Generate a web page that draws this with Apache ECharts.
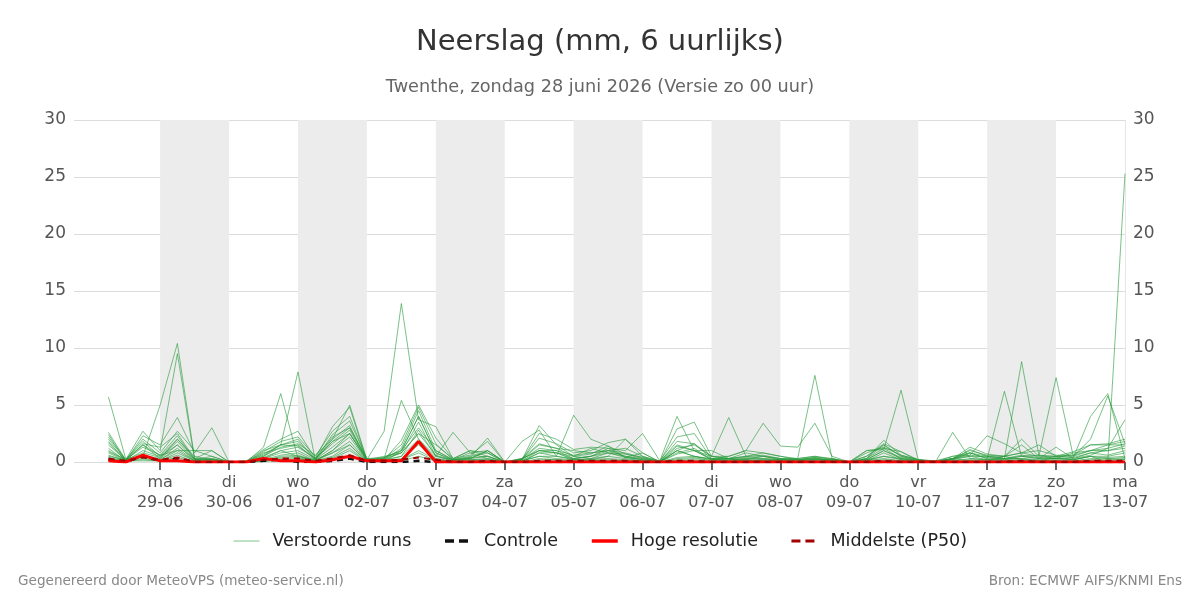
<!DOCTYPE html>
<html><head><meta charset="utf-8">
<script src="https://cdn.jsdelivr.net/npm/echarts@6/dist/echarts.min.js"></script>
<style>html,body{margin:0;padding:0;background:#fff}#c{width:1200px;height:600px}</style>
</head><body><div id="c"></div>
<script>
// Time steps: 6-hourly, 28-06 06:00 .. 13-07 00:00 ; hours relative to 29-06 00:00
const stepHours = [-18,-12,-6,0,6,12,18,24,30,36,42,48,54,60,66,72,78,84,90,96,102,108,114,120,126,132,138,144,150,156,162,168,174,180,186,192,198,204,210,216,222,228,234,240,246,252,258,264,270,276,282,288,294,300,306,312,318,324,330,336];
const tickHours = [0,24,48,72,96,120,144,168,192,216,240,264,288,312,336];
const tickDays = ['ma','di','wo','do','vr','za','zo','ma','di','wo','do','vr','za','zo','ma'];
const tickDates = ['29-06','30-06','01-07','02-07','03-07','04-07','05-07','06-07','07-07','08-07','09-07','10-07','11-07','12-07','13-07'];
const shadedDays = [[0,24],[48,72],[96,120],[144,168],[192,216],[240,264],[288,312]];

// Ensemble members ("Verstoorde runs"), mm per 6 h
const m1  = [5.7,0.3,0.5,5.0, 10.4,0.3,0.2,0, 0,0.3,1.0,0.5, 0.2,0.8,1.5,0.1, 0,1.0,4.0,0.8, 0.2,0.3,1.0,0, 0,0.8,0.5,0.3, 0.5,1.2,0.4,0.2, 0,1.0,0.5,0.3, 0.1,0.2,0,0.2, 0,0.3,0.1,0, 0.2,0.1,0.1,0, 0,0.3,0.1,0, 0.5,0.2,0.1,0.4, 0.2,0.5,0,25.3];
const m2  = [2.6,0.2,2.7,1.0, 9.5,0.2,0,0, 0,1.3,6.0,0.3, 0.1,1.0,2.5,0.2, 2.7,13.9,3.7,3.1, 0.3,1.0,0.5,0, 0.3,1.0,0.8,0.2, 0.3,0.5,2.0,0.5, 0,1.0,0.5,0.2, 0.3,0.2,0.5,0.2, 0.3,7.6,0.3,0, 0.2,0.5,0.3,0.1, 0,0.3,0.5,0.2, 0.3,8.8,0.6,0.3, 0.2,0.5,0.3,0.2];
const m3  = [2.4,0.1,2.3,1.5, 3.9,0.8,3.0,0, 0,0.5,1.5,7.9, 0.2,2.0,5.0,0.2, 0.3,5.4,2.0,0.5, 2.6,0.8,0.3,0, 0.2,3.2,1.5,0.5, 1.2,0.8,0.7,0.3, 0.1,4.0,1.0,0.3, 0.3,0.1,0.2,0.1, 0.2,0.4,0.1,0, 0.3,1.9,0.6,0.2, 0,0.2,0.8,0.3, 6.2,0.5,0.3,1.3, 0.3,0.6,1.2,3.7];
const m4  = [2.0,0.2,2.0,0.8, 2.7,1.0,0.5,0, 0.1,1.1,2.0,2.7, 0.3,3.1,4.8,0.1, 0.2,1.9,5.0,2.1, 0.3,0.6,1.8,0, 1.8,2.8,0.5,4.1, 2.0,1.4,0.4,0.8, 0,2.9,3.5,0.5, 3.9,0.5,0.3,0.2, 0.2,0.3,0.2,0, 0.5,1.6,0.9,0.1, 0,2.6,0.3,0.2, 0.5,2.0,0.5,7.4, 0.5,2.0,5.8,1.6];
const m5  = [1.7,0.1,1.6,1.3, 2.5,0.3,1.0,0, 0,0.9,1.8,2.2, 0.5,2.7,4.0,0.2, 0.3,1.5,4.8,1.6, 0.2,0.4,2.1,0, 0.2,2.5,2.0,1.1, 1.3,1.2,1.0,2.5, 0.1,2.2,2.5,0.3, 0.5,1.0,3.4,1.4, 1.3,3.4,0.5,0, 0.8,1.3,0.6,0.2, 0.1,0.5,0.6,2.3, 1.6,0.8,1.5,0.5, 0.4,4.0,6.0,0.3];
const m6  = [1.5,0.2,1.3,0.6, 2.3,0.2,0.3,0, 0,0.7,1.5,2.0, 0.2,2.4,3.6,0.3, 0.2,1.2,4.5,1.0, 0.2,0.8,1.0,0, 0.2,2.1,1.6,0.8, 1.0,1.7,2.0,0.8, 0,1.8,1.6,0.5, 0.3,0.8,0.5,0.3, 0.3,0.5,0.2,0, 1.0,1.1,6.3,0.2, 0,0.3,1.3,0.7, 0.5,1.5,0.3,0.5, 0.9,1.5,1.6,2.0];
const m7  = [1.2,0.1,1.0,0.5, 2.0,0.5,0.2,0, 0,0.5,1.3,1.6, 0.6,2.0,3.2,0.1, 0.4,1.0,4.0,0.8, 0.1,0.4,0.5,0, 0.3,1.6,1.2,0.5, 0.7,1.4,0.7,0.4, 0,1.4,1.0,1.0, 0.3,0.5,0.8,0.5, 0.2,0.3,0.1,0, 0.5,1.5,0.5,0.1, 0,0.2,1.1,0.5, 0.3,0.5,0.6,0.5, 0.6,1.0,1.2,1.6];
const m8  = [1.0,0.2,0.8,0.4, 1.8,0.2,0.5,0, 0,0.4,1.0,1.3, 0.3,1.6,2.8,0.2, 0.3,0.8,3.5,0.5, 0.2,0.3,1.0,0, 0.2,1.2,1.0,0.3, 0.5,1.0,0.5,0.3, 0,1.0,1.6,0.3, 0.3,0.4,0.5,0.3, 0.2,0.2,0.2,0, 0.3,1.2,0.3,0.1, 0,0.3,0.8,0.3, 0.2,0.5,0.3,0.3, 0.8,1.0,1.0,1.2];
const m9  = [0.8,0.1,0.6,0.3, 1.5,0.1,0.2,0, 0,0.3,0.8,1.0, 0.2,1.3,2.5,0.1, 0.2,0.5,2.8,0.5, 0.1,0.2,0.3,0, 0.1,0.8,0.8,0.5, 0.3,0.8,0.4,0.2, 0,0.7,1.0,0.2, 0.2,0.3,0.2,0.2, 0.1,0.2,0.1,0, 0.2,1.0,0.3,0.1, 0,0.2,0.5,0.5, 0.3,0.3,0.2,0.3, 0.3,0.8,0.6,1.0];
const m10 = [0.6,0.1,0.5,0.2, 1.2,0.1,0.1,0, 0,0.2,0.6,0.8, 0.1,1.0,2.2,0.1, 0.1,0.5,2.0,0.3, 0.1,0.2,0.2,0, 0.1,0.5,0.5,0.2, 0.2,0.5,0.3,0.1, 0,0.4,0.5,0.2, 0.1,0.2,0.1,0.1, 0.1,0.1,0.1,0, 0.1,0.8,0.2,0, 0,0.1,0.3,0.2, 0.2,0.3,0.1,0.2, 0.2,0.5,0.5,0.8];
const m11 = [0.5,0.2,0.4,0.2, 1.0,0.1,0.1,0, 0,0.1,0.5,0.6, 0.1,0.8,1.8,0.1, 0.1,0.3,1.5,0.3, 0,0.1,0.2,0, 0.1,0.5,0.3,0.2, 0.2,0.3,0.2,0.1, 0,0.3,0.4,0.1, 0.1,0.1,0.1,0.1, 0,0.1,0,0, 0.1,0.5,0.2,0, 0,0.1,0.2,0.1, 0.1,0.2,0.1,0.1, 0.1,0.3,0.4,0.5];
const m12 = [0.4,0.1,0.3,0.1, 0.8,0.1,0,0, 0,0.1,0.4,0.5, 0.1,0.5,1.5,0, 0.1,0.2,1.0,0.2, 0,0.1,0.1,0, 0,0.3,0.2,0.1, 0.1,0.2,0.1,0.1, 0,0.2,0.3,0.1, 0,0.1,0.1,0, 0,0,0,0, 0.1,0.3,0.1,0, 0,0,0.1,0.1, 0.1,0.1,0.1,0.1, 0.1,0.2,0.3,0.4];
const m13 = [0.3,0.1,0.2,0.1, 0.6,0,0,0, 0,0.1,0.3,0.4, 0.1,0.4,1.2,0, 0.1,0.2,0.8,0.1, 0,0,0.1,0, 0,0.2,0.2,0.1, 0.1,0.1,0.1,0, 0,0.1,0.2,0, 0,0,0.1,0, 0,0,0,0, 0,0.2,0.1,0, 0,0,0.1,0, 0.1,0.1,0,0.1, 0,0.1,0.2,0.3];
const m14 = [0.2,0.1,0.1,0.1, 0.4,0,0,0, 0,0,0.2,0.3, 0,0.3,1.0,0, 0,0.1,0.5,0.1, 0,0,0,0, 0,0.1,0.1,0, 0.1,0.1,0,0, 0,0.1,0.1,0, 0,0,0,0, 0,0,0,0, 0,0.1,0,0, 0,0,0,0, 0,0,0,0, 0,0.1,0.1,0.2];
const m15 = [0.9,0.2,1.5,0.6, 1.0,1.0,1.0,0, 0.1,0.6,1.5,1.4, 0.3,1.8,3.0,0.2, 0.5,0.8,2.5,1.5, 0.3,1.0,0.8,0, 0.3,1.0,1.0,0.6, 0.8,1.0,1.2,0.5, 0.1,1.5,1.0,0.5, 0.5,1.0,0.8,0.5, 0.3,0.5,0.3,0, 1.0,1.2,0.9,0.2, 0.1,0.3,1.0,0.6, 0.5,0.8,1.0,0.6, 0.6,1.5,1.5,1.5];
const m16 = [2.2,0.2,1.8,0.5, 1.5,0.2,0.3,0, 0,1.0,1.5,1.8, 0.3,2.2,3.0,0.3, 0.4,1.0,3.0,1.0, 0.2,0.5,0.8,0, 0.2,1.5,1.2,1.0, 0.8,1.0,0.8,0.4, 0,1.2,1.5,0.5, 0.3,0.5,0.6,0.3, 0.2,0.4,0.3,0, 0.3,1.5,0.5,0.2, 0,0.5,0.8,0.5, 0.5,0.8,0.5,0.5, 0.5,1.0,1.5,1.8];
const m17 = [1.8,0.1,1.5,0.3, 2.0,0.3,0.2,0, 0,0.8,1.2,1.5, 0.2,1.8,2.5,0.2, 0.2,0.8,2.5,0.6, 0.1,0.3,0.5,0, 0.1,1.0,0.8,0.3, 0.5,0.8,0.5,0.2, 0,0.8,1.2,0.2, 0.2,0.3,0.3,0.2, 0.1,0.2,0.2,0, 0.2,1.0,0.4,0.1, 0,0.3,0.6,0.4, 0.3,0.6,0.4,0.3, 0.4,0.8,1.0,1.4];
const members = [m1,m2,m3,m4,m5,m6,m7,m8,m9,m10,m11,m12,m13,m14,m15,m16,m17];

const controle = [0.2,0,0.5,0.1, 0.3,0,0,0, 0,0.1,0.2,0, 0,0.1,0.3,0, 0,0,0.1,0, 0,0,0,0, 0,0,0,0, 0,0,0,0, 0,0,0,0, 0,0,0,0, 0,0,0,0, 0,0,0,0, 0,0,0,0, 0,0,0,0, 0,0,0,0];
const hogeResolutie = [0.1,0,0.6,0.1, 0.1,0,0,0, 0,0.3,0.1,0.1, 0,0.2,0.5,0.1, 0.1,0.1,1.8,0, 0,0,0,0, 0,0,0,0, 0,0,0,0, 0,0,0,0, 0,0,0,0, 0,0,0,0, 0,0,0,0, 0,0,0,0, 0,0,0,0, 0,0,0,0];
const middelste = [0.3,0.1,0.4,0.2, 0.4,0,0,0, 0,0.2,0.3,0.3, 0.1,0.3,0.6,0.1, 0.1,0.2,0.4,0.2, 0,0,0.1,0, 0,0.1,0.1,0.1, 0.1,0.1,0.1,0, 0,0.1,0.1,0, 0,0,0,0, 0,0,0,0, 0,0.1,0,0, 0,0,0,0, 0,0.1,0,0, 0,0.1,0.1,0.1];

const pairs = arr => arr.map((v,i)=>[stepHours[i], v]);
const series = [];
members.forEach((m,k)=>{
  series.push({name:'Verstoorde runs', type:'line', data:pairs(m), showSymbol:false, symbol:'none',
    lineStyle:{width:1, color:'rgba(40,155,60,0.62)'}, itemStyle:{color:'#7cc487'}, silent:true, z:2,
    markArea: k===0 ? {silent:true, itemStyle:{color:'#ececec'}, data: shadedDays.map(d=>[{xAxis:d[0]},{xAxis:d[1]}])} : undefined});
});
series.push({name:'Middelste (P50)', type:'line', data:pairs(middelste), symbol:'none', lineStyle:{width:2, type:[6,5], color:'#a00000'}, itemStyle:{color:'#a00000'}, z:5});
series.push({name:'Hoge resolutie', type:'line', data:pairs(hogeResolutie), symbol:'none', lineStyle:{width:3, color:'#ff0000'}, itemStyle:{color:'#ff0000'}, z:4});
series.push({name:'Controle', type:'line', data:pairs(controle), symbol:'none', lineStyle:{width:2.5, type:[6,5], color:'#111'}, itemStyle:{color:'#111'}, z:3});

const font = 'DejaVu Sans';
const chart = echarts.init(document.getElementById('c'));
chart.setOption({
  animation:false,
  backgroundColor:'#fff',
  textStyle:{fontFamily:font},
  title:[
    {text:'Neerslag (mm, 6 uurlijks)', left:'center', top:23, textStyle:{fontSize:29, fontWeight:'normal', color:'#333', fontFamily:font}},
    {text:'Twenthe, zondag 28 juni 2026 (Versie zo 00 uur)', left:'center', top:73, textStyle:{fontSize:17.7, fontWeight:'normal', color:'#666', fontFamily:font}},
    {text:'Gegenereerd door MeteoVPS (meteo-service.nl)', left:13, top:569, textStyle:{fontSize:13.6, fontWeight:'normal', color:'#888', fontFamily:font}},
    {text:'Bron: ECMWF AIFS/KNMI Ens', right:13, top:569, textStyle:{fontSize:13.6, fontWeight:'normal', color:'#888', fontFamily:font}}
  ],
  legend:{top:527, left:'center', itemWidth:26, itemHeight:14, itemGap:32,
    itemStyle:{opacity:0},
    data:[
      {name:'Verstoorde runs', lineStyle:{width:1, color:'#7cc487'}},
      {name:'Controle', lineStyle:{width:3.5, type:[9,5], color:'#111'}},
      {name:'Hoge resolutie', lineStyle:{width:3.5, color:'#ff0000'}},
      {name:'Middelste (P50)', lineStyle:{width:3, type:[9,5], color:'#a00000'}}
    ],
    textStyle:{fontSize:17.5, color:'#222', fontFamily:font, padding:[0,0,0,8]}},
  grid:{left:74, right:75, top:120, bottom:138},
  xAxis:{type:'value', min:-30, max:336,
    splitLine:{show:false},
    axisLine:{show:false},
    axisTick:{show:true, length:8, lineStyle:{color:'#666', width:2}, customValues:tickHours},
    axisLabel:{customValues:tickHours, color:'#555', fontSize:16, lineHeight:20, margin:11, fontFamily:font,
      formatter:v=>{const i=tickHours.indexOf(v); return i<0?'':tickDays[i]+'\n'+tickDates[i];}}
  },
  yAxis:[
    {type:'value', min:0, max:30, interval:5, position:'left',
      splitLine:{lineStyle:{color:'#dcdcdc', width:1}}, axisLine:{show:false}, axisTick:{show:false},
      axisLabel:{color:'#555', fontSize:17, margin:8, fontFamily:font}},
    {type:'value', min:0, max:30, interval:5, position:'right',
      splitLine:{show:false}, axisLine:{show:true, lineStyle:{color:'#e6e6e6'}}, axisTick:{show:false},
      axisLabel:{color:'#555', fontSize:17, margin:8, fontFamily:font}}
  ],
  series:series
});
</script></body></html>
